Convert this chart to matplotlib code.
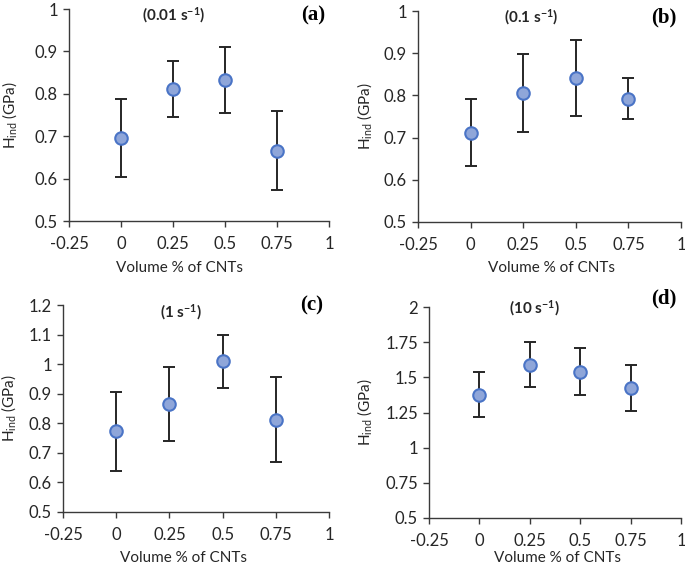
import matplotlib
matplotlib.use("Agg")
import matplotlib.pyplot as plt

plt.rcParams['font.family'] = ['Lato', 'DejaVu Sans']
plt.rcParams['mathtext.default'] = 'regular'

x = [0, 0.25, 0.5, 0.75]
xticks = [-0.25, 0, 0.25, 0.5, 0.75, 1]
xtl = ['-0.25', '0', '0.25', '0.5', '0.75', '1']

h_a = [0.695, 0.812, 0.832, 0.666]
e_a = [0.092, 0.066, 0.078, 0.093]
h_b = [0.712, 0.806, 0.842, 0.792]
e_b = [0.079, 0.093, 0.090, 0.049]
h_c = [0.773, 0.864, 1.010, 0.812]
e_c = [0.134, 0.125, 0.090, 0.144]
h_d = [1.375, 1.590, 1.540, 1.425]
e_d = [0.160, 0.160, 0.165, 0.162]

yt_ab = [0.5, 0.6, 0.7, 0.8, 0.9, 1.0]
ytl_ab = ['0.5', '0.6', '0.7', '0.8', '0.9', '1']
yt_c = [0.5, 0.6, 0.7, 0.8, 0.9, 1.0, 1.1, 1.2]
ytl_c = ['0.5', '0.6', '0.7', '0.8', '0.9', '1', '1.1', '1.2']
yt_d = [0.5, 0.75, 1.0, 1.25, 1.5, 1.75, 2.0]
ytl_d = ['0.5', '0.75', '1', '1.25', '1.5', '1.75', '2']

# layout in pixels: axes box, xlabel centre, ylabel centre x, title centre, panel-label right/centre-y
panels = [
    dict(h=h_a, e=e_a, rate='0.01', lab='(a)', ylim=(0.5, 1.0), yt=yt_ab, ytl=ytl_ab,
         box=(69, 9, 329, 221), xl=(180, 268), yl=10, ti=(174, 15), pl=(325, 15)),
    dict(h=h_b, e=e_b, rate='0.1', lab='(b)', ylim=(0.5, 1.0), yt=yt_ab, ytl=ytl_ab,
         box=(418, 11, 681, 222), xl=(552, 268), yl=365, ti=(531, 17), pl=(676, 17)),
    dict(h=h_c, e=e_c, rate='1', lab='(c)', ylim=(0.5, 1.2), yt=yt_c, ytl=ytl_c,
         box=(63, 305, 329, 512), xl=(184, 558), yl=9, ti=(181, 312), pl=(323, 305)),
    dict(h=h_d, e=e_d, rate='10', lab='(d)', ylim=(0.5, 2.0), yt=yt_d, ytl=ytl_d,
         box=(429, 307, 681, 518), xl=(558, 558), yl=365, ti=(534, 308), pl=(676, 298)),
]

W, H = 685, 570
fig = plt.figure(figsize=(W / 100, H / 100), dpi=100)


def fx(px):
    return px / W


def fy(py):
    return 1 - py / H


for p in panels:
    x0, y0, x1, y1 = p['box']
    ax = fig.add_axes([fx(x0), fy(y1), (x1 - x0) / W, (y1 - y0) / H])
    ax.errorbar(x, p['h'], yerr=p['e'], fmt='none', ecolor='#262626', elinewidth=1.4,
                capsize=4.5, capthick=1.4, zorder=2)
    ax.plot(x, p['h'], 'o', ms=9, mfc='#8FA6D9', mec='#4A74C6', mew=1.5, zorder=3)
    ax.set_xlim(-0.25, 1)
    ax.set_ylim(*p['ylim'])
    ax.set_xticks(xticks)
    ax.set_xticklabels(xtl)
    ax.set_yticks(p['yt'])
    ax.set_yticklabels(p['ytl'])
    for s in ['top', 'right']:
        ax.spines[s].set_visible(False)
    for s in ['left', 'bottom']:
        ax.spines[s].set_color('#3a3a3a')
        ax.spines[s].set_linewidth(1.0)
    ax.tick_params(axis='both', labelsize=12, length=4, width=1.0, color='#3a3a3a',
                   labelcolor='#262626')
    ax.tick_params(axis='x', pad=7)
    ax.tick_params(axis='y', pad=4)

    ax.set_xlabel('Volume % of CNTs', fontsize=11, color='#262626', va='center')
    ax.xaxis.set_label_coords((p['xl'][0] - x0) / (x1 - x0), (y1 - p['xl'][1]) / (y1 - y0))
    ax.set_ylabel(r'H$_{ind}$ (GPa)', fontsize=11, color='#262626', va='center')
    ax.yaxis.set_label_coords((p['yl'] - x0) / (x1 - x0), 0.5)

    fig.text(fx(p['ti'][0]), fy(p['ti'][1]), r'(' + p['rate'] + r' s$^{-1}$)',
             ha='center', va='center', fontsize=11, fontweight='bold', color='#262626')
    fig.text(fx(p['pl'][0]), fy(p['pl'][1]), p['lab'], ha='right', va='center',
             fontsize=15, fontweight='bold', family='Liberation Serif', color='black')

fig.savefig('out.png', dpi=100)
